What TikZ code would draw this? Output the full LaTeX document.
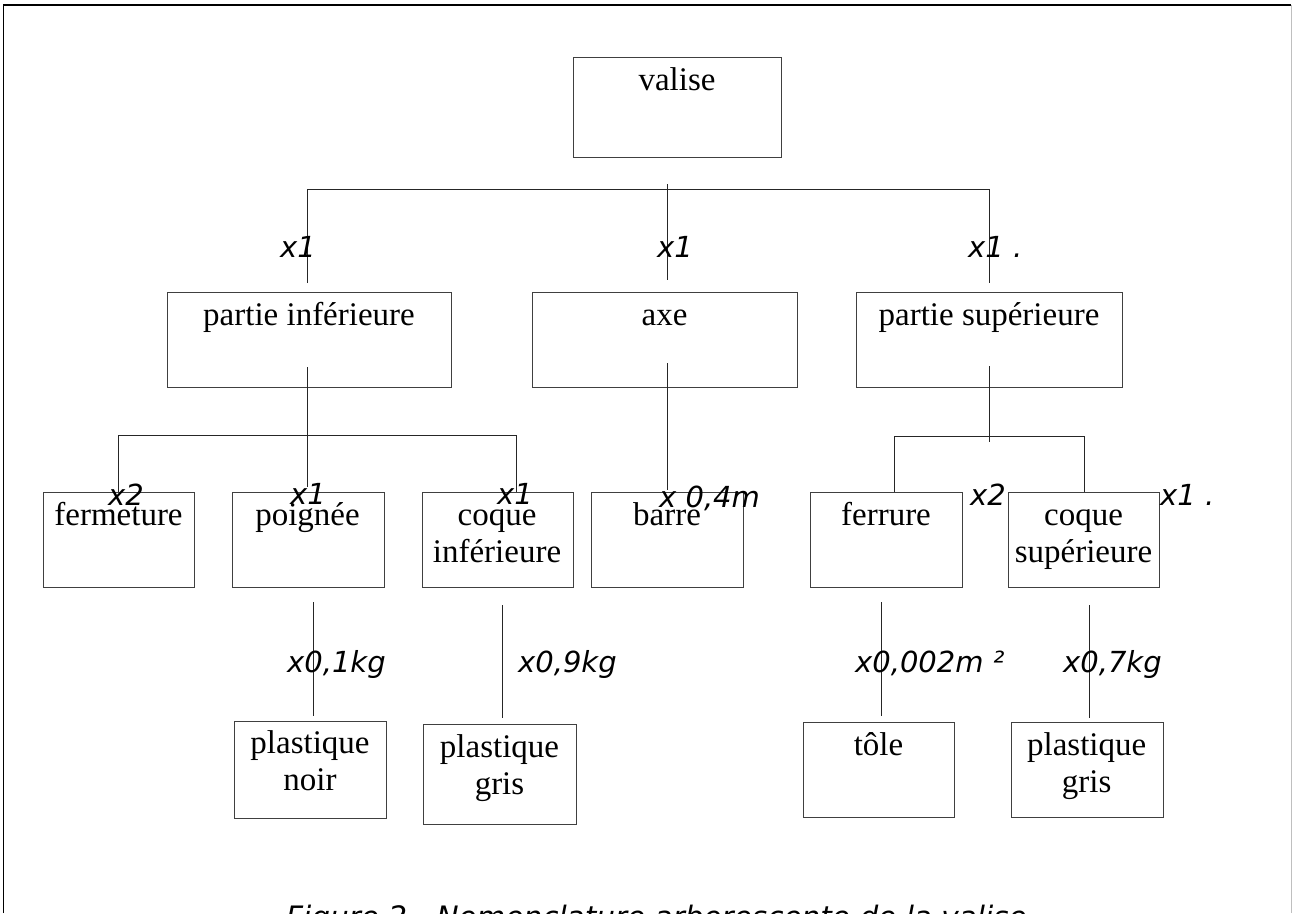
\documentclass[tikz,border=0pt]{standalone}
\usepackage{fontspec}
\setmainfont{Liberation Serif}
\newfontfamily\lblfont{DejaVu Sans}
\begin{document}
\begin{tikzpicture}[x=1pt,y=-1pt,
  box/.style={draw=black!75, line width=1.2pt, inner sep=0pt, anchor=north west},
  txt/.style={font=\fontsize{33}{37.7}\selectfont, inner sep=0pt, anchor=base},
  lbl/.style={font=\lblfont\itshape\fontsize{29}{32}\selectfont, inner sep=0pt, anchor=base west},
  captext/.style={font=\lblfont\itshape\fontsize{29.5}{33}\selectfont, inner sep=0pt, anchor=base west},
  conn/.style={draw=black!85, line width=1pt}]
\useasboundingbox (0,0) rectangle (1292,913);
\clip (0,0) rectangle (1292,913);
% frame
\draw[black, line width=1.5pt] (3.5,913) -- (3.5,5) -- (1291,5);
\draw[black!25, line width=1pt] (1291,5) -- (1291,913);

% boxes
\node[box, minimum width=208pt, minimum height=100pt] (valise) at (573,57) {};
\node[box, minimum width=284pt, minimum height=95pt] (pinf) at (167,292) {};
\node[box, minimum width=265pt, minimum height=95pt] (axe) at (532,292) {};
\node[box, minimum width=266pt, minimum height=95pt] (psup) at (856,292) {};
\node[box, minimum width=151pt, minimum height=95pt] (ferm) at (43,492) {};
\node[box, minimum width=152pt, minimum height=95pt] (poig) at (231.5,492) {};
\node[box, minimum width=151.5pt, minimum height=95pt] (cinf) at (421.5,492) {};
\node[box, minimum width=152pt, minimum height=95pt] (barre) at (591,492) {};
\node[box, minimum width=152pt, minimum height=95pt] (ferr) at (810,492) {};
\node[box, minimum width=151pt, minimum height=95pt] (csup) at (1008,492) {};
\node[box, minimum width=152pt, minimum height=97pt] (pnoir) at (234,721) {};
\node[box, minimum width=153pt, minimum height=100pt] (pgris) at (423,724) {};
\node[box, minimum width=151pt, minimum height=95pt] (tole) at (803,722) {};
\node[box, minimum width=151.5pt, minimum height=95pt] (pgris2) at (1011,722) {};

% box texts
\node[txt] (tvalise) at (677,90) {valise};
\node[txt] (tpinf) at (309,325) {partie inférieure};
\node[txt] (taxe) at (664.5,325) {axe};
\node[txt] (tpsup) at (989,325) {partie supérieure};
\node[txt] (tferm) at (118.5,525) {fermeture};
\node[txt] (tpoig) at (307.5,525) {poignée};
\node[txt] (tcinf) at (497,525) {\begin{tabular}[t]{@{}c@{}}coque\\inférieure\end{tabular}};
\node[txt] (tbarre) at (667,525) {barre};
\node[txt] (tferr) at (886,525) {ferrure};
\node[txt] (tcsup) at (1083.5,525) {\begin{tabular}[t]{@{}c@{}}coque\\supérieure\end{tabular}};
\node[txt] (tpnoir) at (310,753) {\begin{tabular}[t]{@{}c@{}}plastique\\noir\end{tabular}};
\node[txt] (tpgris) at (499.5,757) {\begin{tabular}[t]{@{}c@{}}plastique\\gris\end{tabular}};
\node[txt] (ttole) at (878.5,755) {tôle};
\node[txt] (tpgris2) at (1086.7,755) {\begin{tabular}[t]{@{}c@{}}plastique\\gris\end{tabular}};

% connector coordinates
\coordinate (v0a) at (667,184);   \coordinate (v0b) at (667,280);
\coordinate (b1l) at (307,189);   \coordinate (b1r) at (989,189);
\coordinate (d1l) at (307,283);   \coordinate (d1r) at (989,283);
\coordinate (v1a) at (307.5,367); \coordinate (v1b) at (307.5,487);
\coordinate (b2l) at (118,435);   \coordinate (b2r) at (516,435);
\coordinate (v2a) at (667,363);   \coordinate (v2b) at (667,490);
\coordinate (v3a) at (989,366);   \coordinate (v3b) at (989,442);
\coordinate (b3l) at (894,436);   \coordinate (b3r) at (1084,436);
\coordinate (p1a) at (313,602);   \coordinate (p1b) at (313,716);
\coordinate (p2a) at (502.5,605); \coordinate (p2b) at (502.5,718);
\coordinate (p3a) at (881,602);   \coordinate (p3b) at (881,716);
\coordinate (p4a) at (1089,605);  \coordinate (p4b) at (1089,718);

% connectors
\draw[conn] (v0a) -- (v0b);
\draw[conn] (d1l) -- (b1l) -- (b1r) -- (d1r);
\draw[conn] (v1a) -- (v1b);
\draw[conn] (b2l |- ferm.north) -- (b2l) -- (b2r) -- (b2r |- cinf.north);
\draw[conn] (v2a) -- (v2b);
\draw[conn] (v3a) -- (v3b);
\draw[conn] (b3l |- ferr.north) -- (b3l) -- (b3r) -- (b3r |- csup.north);
\draw[conn] (p1a) -- (p1b);
\draw[conn] (p2a) -- (p2b);
\draw[conn] (p3a) -- (p3b);
\draw[conn] (p4a) -- (p4b);

% quantity labels
\node[lbl] (q1) at (280,257) {x1};
\node[lbl] (q2) at (657,257) {x1};
\node[lbl] (q3) at (968,257) {x1 .};
\node[lbl] (q4) at (108,505) {x2};
\node[lbl] (q5) at (290,504) {x1};
\node[lbl] (q6) at (497,504) {x1};
\node[lbl] (q7) at (659,507) {x 0,4m};
\node[lbl] (q8) at (970,505) {x2};
\node[lbl] (q9) at (1160,505) {x1 .};
\node[lbl] (q10) at (287,672) {x0,1kg};
\node[lbl] (q11) at (518,672) {x0,9kg};
\node[lbl] (q12) at (855,672) {x0,002m ²};
\node[lbl] (q13) at (1063,672) {x0,7kg};

% caption (cut by the page edge)
\node[captext] (caption) at (286,927.5) {Figure 2 - Nomenclature arborescente de la valise};
\end{tikzpicture}
\end{document}
